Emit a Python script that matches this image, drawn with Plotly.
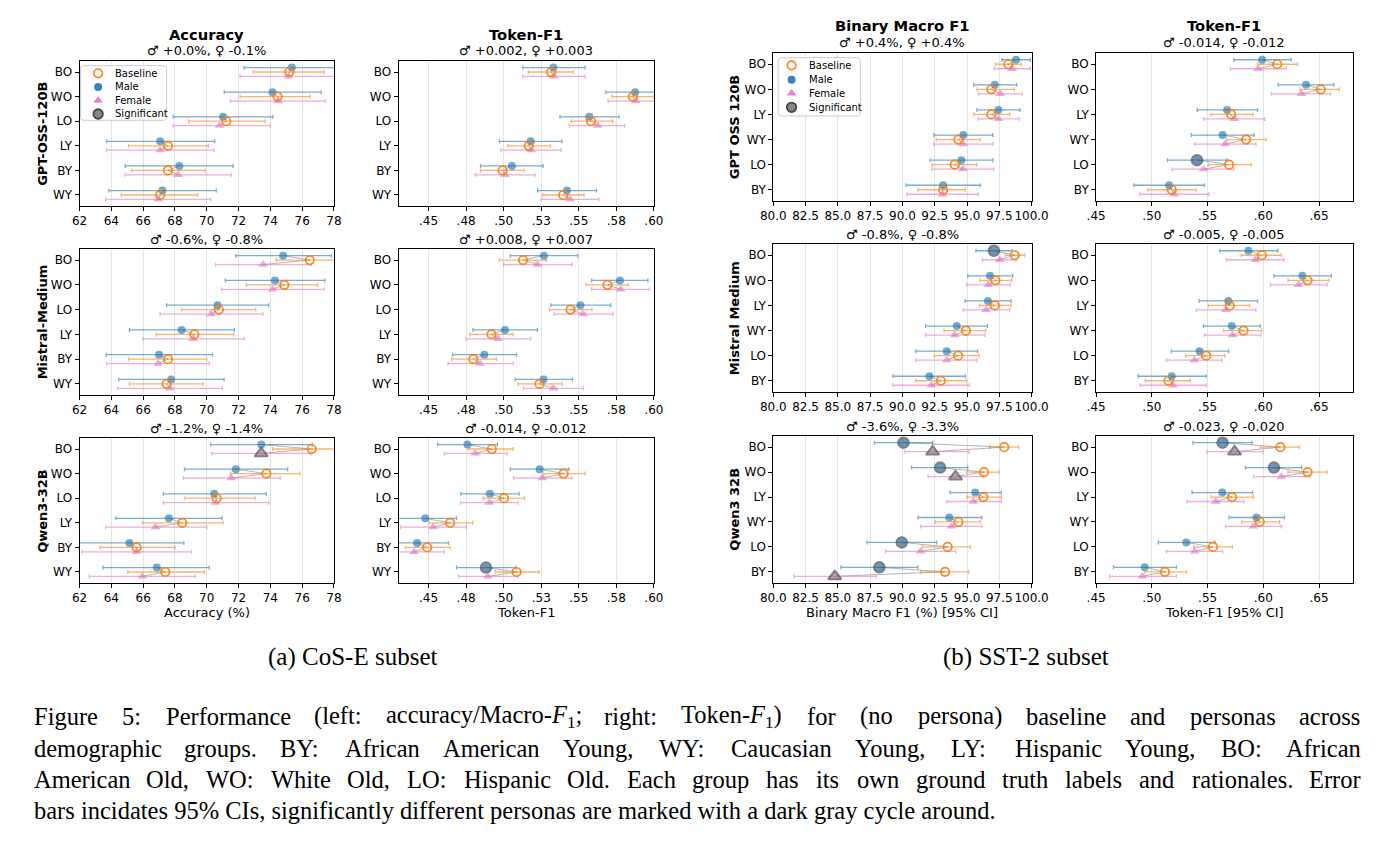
import numpy as np
import plotly.graph_objects as go

W, H = 1393, 859

# ---------------- categories ----------------
groups_cose = ["BO", "WO", "LO", "LY", "BY", "WY"]
groups_sst = ["BO", "WO", "LY", "WY", "LO", "BY"]

# ---------------- (a) CoS-E : GPT-OSS-120B ----------------
a_gpt_acc_male      = [75.35, 74.14, 71.03, 67.07, 68.28, 67.21]
a_gpt_acc_male_lo   = [72.35, 71.10, 67.90, 63.70, 64.87, 63.85]
a_gpt_acc_male_hi   = [78.40, 77.20, 74.15, 70.50, 71.66, 70.60]
a_gpt_acc_base      = [75.19, 74.45, 71.23, 67.56, 67.56, 67.07]
a_gpt_acc_base_lo   = [72.93, 72.10, 68.87, 65.08, 65.28, 64.63]
a_gpt_acc_base_hi   = [77.38, 76.50, 73.65, 70.10, 69.90, 69.45]
a_gpt_acc_female    = [75.13, 74.50, 70.80, 67.07, 68.20, 66.96]
a_gpt_acc_female_lo = [72.10, 71.50, 67.90, 63.70, 64.87, 63.64]
a_gpt_acc_female_hi = [78.10, 77.45, 74.00, 70.45, 71.54, 70.25]

a_gpt_tf1_male      = [0.5331, 0.5875, 0.5570, 0.5180, 0.5055, 0.5421]
a_gpt_tf1_male_lo   = [0.5127, 0.5680, 0.5375, 0.4971, 0.4846, 0.5226]
a_gpt_tf1_male_hi   = [0.5542, 0.6070, 0.5768, 0.5388, 0.5263, 0.5618]
a_gpt_tf1_base      = [0.5316, 0.5860, 0.5581, 0.5167, 0.4993, 0.5397]
a_gpt_tf1_base_lo   = [0.5164, 0.5722, 0.5450, 0.5029, 0.4846, 0.5259]
a_gpt_tf1_base_hi   = [0.5465, 0.6000, 0.5726, 0.5311, 0.5136, 0.5535]
a_gpt_tf1_female    = [0.5333, 0.5880, 0.5627, 0.5182, 0.5009, 0.5441]
a_gpt_tf1_female_lo = [0.5127, 0.5695, 0.5436, 0.4980, 0.4811, 0.5250]
a_gpt_tf1_female_hi = [0.5542, 0.6070, 0.5805, 0.5382, 0.5208, 0.5634]

# ---------------- (a) CoS-E : Mistral-Medium ----------------
a_mis_acc_male      = [74.80, 74.29, 70.68, 68.42, 67.00, 67.76]
a_mis_acc_male_lo   = [71.83, 71.17, 67.48, 65.14, 63.68, 64.46]
a_mis_acc_male_hi   = [77.84, 77.43, 73.90, 71.74, 70.37, 71.09]
a_mis_acc_base      = [76.48, 74.88, 70.76, 69.22, 67.56, 67.48]
a_mis_acc_base_lo   = [74.37, 72.48, 68.42, 66.82, 65.08, 65.14]
a_mis_acc_base_hi   = [78.50, 76.97, 73.08, 71.70, 70.00, 69.77]
a_mis_acc_female    = [73.55, 74.14, 70.27, 69.14, 66.94, 67.68]
a_mis_acc_female_lo = [70.55, 70.92, 67.07, 66.00, 63.70, 64.40]
a_mis_acc_female_hi = [76.56, 77.38, 73.53, 72.36, 70.16, 70.98]

a_mis_tf1_male      = [0.5268, 0.5774, 0.5511, 0.5009, 0.4871, 0.5265]
a_mis_tf1_male_lo   = [0.5044, 0.5586, 0.5314, 0.4796, 0.4660, 0.5077]
a_mis_tf1_male_hi   = [0.5493, 0.5960, 0.5713, 0.5224, 0.5086, 0.5458]
a_mis_tf1_base      = [0.5129, 0.5691, 0.5445, 0.4919, 0.4798, 0.5239]
a_mis_tf1_base_lo   = [0.4971, 0.5548, 0.5305, 0.4776, 0.4654, 0.5096]
a_mis_tf1_base_hi   = [0.5283, 0.5830, 0.5588, 0.5061, 0.4952, 0.5389]
a_mis_tf1_female    = [0.5226, 0.5779, 0.5529, 0.4961, 0.4842, 0.5331]
a_mis_tf1_female_lo = [0.5000, 0.5586, 0.5336, 0.4748, 0.4629, 0.5132]
a_mis_tf1_female_hi = [0.5454, 0.5970, 0.5728, 0.5180, 0.5064, 0.5531]

# ---------------- (a) CoS-E : Qwen3-32B ----------------
a_qwen_acc_male      = [73.43, 71.83, 70.47, 67.62, 65.14, 66.86]
a_qwen_acc_male_lo   = [70.25, 68.60, 67.27, 64.28, 61.80, 63.48]
a_qwen_acc_male_hi   = [76.63, 75.09, 73.75, 70.96, 68.56, 70.16]
a_qwen_acc_base      = [76.60, 73.75, 70.62, 68.46, 65.59, 67.39]
a_qwen_acc_base_lo   = [74.14, 71.50, 68.63, 65.96, 63.29, 65.04]
a_qwen_acc_base_hi   = [79.00, 75.85, 73.04, 71.03, 68.01, 69.84]
a_qwen_acc_female    = [73.43, 71.54, 70.55, 66.78, 65.59, 65.94]
a_qwen_acc_female_lo = [70.31, 68.54, 67.27, 63.64, 62.16, 62.62]
a_qwen_acc_female_hi = [76.56, 74.62, 73.90, 70.00, 69.04, 69.28]
a_qwen_acc_sig_male   = [0, 0, 0, 0, 0, 0]
a_qwen_acc_sig_female = [1, 0, 0, 0, 0, 0]

a_qwen_tf1_male      = [0.4759, 0.5239, 0.4908, 0.4478, 0.4423, 0.4882]
a_qwen_tf1_male_lo   = [0.4561, 0.5044, 0.4715, 0.4270, 0.4210, 0.4686]
a_qwen_tf1_male_hi   = [0.4958, 0.5434, 0.5103, 0.4686, 0.4632, 0.5081]
a_qwen_tf1_base      = [0.4921, 0.5399, 0.5002, 0.4643, 0.4491, 0.5086]
a_qwen_tf1_base_lo   = [0.4763, 0.5263, 0.4864, 0.4504, 0.4346, 0.4945]
a_qwen_tf1_base_hi   = [0.5064, 0.5542, 0.5138, 0.4794, 0.4643, 0.5235]
a_qwen_tf1_female    = [0.4811, 0.5257, 0.4904, 0.4529, 0.4404, 0.4895]
a_qwen_tf1_female_lo = [0.4605, 0.5066, 0.4713, 0.4314, 0.4200, 0.4702]
a_qwen_tf1_female_hi = [0.5022, 0.5454, 0.5096, 0.4752, 0.4603, 0.5096]
a_qwen_tf1_sig_male   = [0, 0, 0, 0, 0, 1]
a_qwen_tf1_sig_female = [0, 0, 0, 0, 0, 0]

# ---------------- (b) SST-2 : GPT OSS 120B ----------------
b_gpt_mf1_male      = [98.80, 97.15, 97.43, 94.71, 94.56, 93.15]
b_gpt_mf1_male_lo   = [97.70, 95.52, 95.77, 92.44, 92.14, 90.28]
b_gpt_mf1_male_hi   = [99.90, 98.84, 99.10, 97.00, 97.00, 96.02]
b_gpt_mf1_base      = [98.20, 96.88, 96.88, 94.33, 94.05, 93.15]
b_gpt_mf1_base_lo   = [97.20, 95.77, 95.52, 92.62, 92.29, 91.21]
b_gpt_mf1_base_hi   = [99.20, 98.66, 98.30, 96.02, 95.74, 94.88]
b_gpt_mf1_female    = [98.50, 97.58, 97.43, 94.71, 94.69, 93.10]
b_gpt_mf1_female_lo = [97.10, 95.90, 95.87, 92.44, 92.29, 90.35]
b_gpt_mf1_female_hi = [99.90, 99.27, 99.04, 97.00, 97.08, 95.87]

b_gpt_tf1_male      = [0.5989, 0.6383, 0.5675, 0.5634, 0.5405, 0.5155]
b_gpt_tf1_male_lo   = [0.5736, 0.6133, 0.5407, 0.5355, 0.5140, 0.4838]
b_gpt_tf1_male_hi   = [0.6250, 0.6632, 0.5948, 0.5918, 0.5675, 0.5472]
b_gpt_tf1_base      = [0.6124, 0.6515, 0.5710, 0.5845, 0.5692, 0.5178]
b_gpt_tf1_base_lo   = [0.5948, 0.6330, 0.5528, 0.5669, 0.5507, 0.4964]
b_gpt_tf1_base_hi   = [0.6306, 0.6682, 0.5907, 0.6024, 0.5892, 0.5396]
b_gpt_tf1_female    = [0.5954, 0.6341, 0.5739, 0.5657, 0.5463, 0.5199]
b_gpt_tf1_female_lo = [0.5704, 0.6071, 0.5463, 0.5384, 0.5184, 0.4891]
b_gpt_tf1_female_hi = [0.6206, 0.6603, 0.6012, 0.5933, 0.5736, 0.5513]
b_gpt_tf1_sig_male   = [0, 0, 0, 0, 1, 0]
b_gpt_tf1_sig_female = [0, 0, 0, 0, 0, 0]

# ---------------- (b) SST-2 : Mistral Medium ----------------
b_mis_mf1_male      = [97.08, 96.78, 96.62, 94.20, 93.43, 92.09]
b_mis_mf1_male_lo   = [95.69, 95.06, 94.86, 91.79, 91.03, 89.27]
b_mis_mf1_male_hi   = [98.50, 98.54, 98.41, 96.58, 95.82, 94.88]
b_mis_mf1_base      = [98.70, 97.20, 97.15, 94.91, 94.31, 92.97]
b_mis_mf1_base_lo   = [97.96, 96.02, 95.97, 93.22, 92.47, 91.03]
b_mis_mf1_base_hi   = [99.47, 98.46, 98.40, 96.45, 95.94, 94.96]
b_mis_mf1_female    = [97.53, 96.65, 96.47, 94.05, 93.43, 92.24]
b_mis_mf1_female_lo = [96.20, 94.96, 94.71, 91.79, 91.03, 89.27]
b_mis_mf1_female_hi = [98.80, 98.34, 98.30, 96.37, 95.77, 95.19]
b_mis_mf1_sig_male   = [1, 0, 0, 0, 0, 0]
b_mis_mf1_sig_female = [0, 0, 0, 0, 0, 0]

b_mis_tf1_male      = [0.5866, 0.6350, 0.5686, 0.5716, 0.5428, 0.5178]
b_mis_tf1_male_lo   = [0.5610, 0.6095, 0.5425, 0.5463, 0.5175, 0.4876]
b_mis_tf1_male_hi   = [0.6130, 0.6609, 0.5948, 0.5971, 0.5689, 0.5487]
b_mis_tf1_base      = [0.5986, 0.6397, 0.5698, 0.5822, 0.5487, 0.5149]
b_mis_tf1_base_lo   = [0.5801, 0.6221, 0.5507, 0.5645, 0.5302, 0.4941]
b_mis_tf1_base_hi   = [0.6162, 0.6588, 0.5877, 0.5986, 0.5654, 0.5346]
b_mis_tf1_female    = [0.5927, 0.6315, 0.5663, 0.5722, 0.5381, 0.5187]
b_mis_tf1_female_lo = [0.5669, 0.6065, 0.5399, 0.5472, 0.5131, 0.4896]
b_mis_tf1_female_hi = [0.6183, 0.6573, 0.5933, 0.5977, 0.5628, 0.5487]

# ---------------- (b) SST-2 : Qwen3 32B ----------------
b_qwen_mf1_male      = [90.08, 92.92, 95.64, 93.63, 89.95, 88.21]
b_qwen_mf1_male_lo   = [87.84, 90.71, 93.68, 91.21, 87.26, 85.24]
b_qwen_mf1_male_hi   = [92.34, 95.06, 97.66, 96.15, 92.67, 91.21]
b_qwen_mf1_base      = [97.88, 96.32, 96.27, 94.33, 93.50, 93.30]
b_qwen_mf1_base_lo   = [96.75, 94.99, 94.99, 92.54, 91.54, 91.41]
b_qwen_mf1_base_hi   = [99.00, 97.46, 97.66, 96.02, 95.26, 95.14]
b_qwen_mf1_female    = [92.34, 94.11, 95.49, 93.80, 91.41, 84.76]
b_qwen_mf1_female_lo = [90.20, 91.99, 93.43, 91.41, 88.69, 81.59]
b_qwen_mf1_female_hi = [95.14, 96.25, 97.66, 96.15, 94.13, 87.96]
b_qwen_mf1_sig_male   = [1, 1, 0, 0, 1, 1]
b_qwen_mf1_sig_female = [1, 1, 0, 0, 0, 1]

b_qwen_tf1_male      = [0.5634, 0.6095, 0.5631, 0.5939, 0.5308, 0.4935]
b_qwen_tf1_male_lo   = [0.5369, 0.5839, 0.5360, 0.5692, 0.5058, 0.4656]
b_qwen_tf1_male_hi   = [0.5898, 0.6344, 0.5904, 0.6189, 0.5566, 0.5220]
b_qwen_tf1_base      = [0.6153, 0.6397, 0.5719, 0.5968, 0.5548, 0.5117]
b_qwen_tf1_base_lo   = [0.5971, 0.6221, 0.5531, 0.5807, 0.5375, 0.4935]
b_qwen_tf1_base_hi   = [0.6324, 0.6571, 0.5910, 0.6145, 0.5722, 0.5311]
b_qwen_tf1_female    = [0.5742, 0.6162, 0.5572, 0.5910, 0.5384, 0.4914]
b_qwen_tf1_female_lo = [0.5493, 0.5913, 0.5316, 0.5660, 0.5131, 0.4620]
b_qwen_tf1_female_hi = [0.5998, 0.6412, 0.5825, 0.6162, 0.5634, 0.5220]
b_qwen_tf1_sig_male   = [1, 1, 0, 0, 0, 0]
b_qwen_tf1_sig_female = [1, 0, 0, 0, 0, 0]

no_sig = [0, 0, 0, 0, 0, 0]

# subtitle deltas
a_deltas = [["♂ +0.0%, ♀ -0.1%", "♂ +0.002, ♀ +0.003"],
            ["♂ -0.6%, ♀ -0.8%", "♂ +0.008, ♀ +0.007"],
            ["♂ -1.2%, ♀ -1.4%", "♂ -0.014, ♀ -0.012"]]
b_deltas = [["♂ +0.4%, ♀ +0.4%", "♂ -0.014, ♀ -0.012"],
            ["♂ -0.8%, ♀ -0.8%", "♂ -0.005, ♀ -0.005"],
            ["♂ -3.6%, ♀ -3.3%", "♂ -0.023, ♀ -0.020"]]

a_models = ["GPT-OSS-120B", "Mistral-Medium", "Qwen3-32B"]
b_models = ["GPT OSS 120B", "Mistral Medium", "Qwen3 32B"]

# tick labels
acc_ticks = [62, 64, 66, 68, 70, 72, 74, 76, 78]
acc_text = ["62", "64", "66", "68", "70", "72", "74", "76", "78"]
tf1a_ticks = [0.45, 0.475, 0.50, 0.525, 0.55, 0.575, 0.60]
tf1a_text = [".45", ".48", ".50", ".53", ".55", ".58", ".60"]
mf1_ticks = [80, 82.5, 85, 87.5, 90, 92.5, 95, 97.5, 100]
mf1_text = ["80.0", "82.5", "85.0", "87.5", "90.0", "92.5", "95.0", "97.5", "100.0"]
tf1b_ticks = [0.45, 0.50, 0.55, 0.60, 0.65]
tf1b_text = [".45", ".50", ".55", ".60", ".65"]

# ---------------- layout geometry (pixels) ----------------
colA, colB, colC, colD = (68, 328), (394, 655), (777, 1041), (1107, 1369)
rowsL = [(61, 206), (249, 395), (438, 583)]
rowsR = [(53, 201), (244, 392), (436, 583)]

BLUE = "rgba(31,119,180,0.9)"
BLUE_SIG = "rgba(40,98,145,0.95)"
BLUE_E = "rgba(31,119,180,0.6)"
ORANGE = "rgba(255,127,14,0.95)"
ORANGE_E = "rgba(255,127,14,0.6)"
PINK = "rgba(227,119,194,0.9)"
PINK_SIG = "rgba(160,108,148,0.95)"
PINK_E = "rgba(227,119,194,0.6)"
SIG_EDGE = "rgba(70,70,70,0.95)"
OFF = 0.18
PADY = 0.448
FONT = "DejaVu Sans"


def P(prefix, metric, cats, col, row, xr, tv, tt, sig_m=None, sig_f=None):
    g = globals()
    key = f"{prefix}_{metric}"
    return dict(
        cats=cats, col=col, row=row, xr=xr, tv=tv, tt=tt,
        male=g[key + "_male"], male_lo=g[key + "_male_lo"], male_hi=g[key + "_male_hi"],
        base=g[key + "_base"], base_lo=g[key + "_base_lo"], base_hi=g[key + "_base_hi"],
        female=g[key + "_female"], female_lo=g[key + "_female_lo"], female_hi=g[key + "_female_hi"],
        sig_m=sig_m or no_sig, sig_f=sig_f or no_sig)


panels = [
    P("a_gpt", "acc", groups_cose, colA, rowsL[0], [62, 78], acc_ticks, acc_text),
    P("a_gpt", "tf1", groups_cose, colB, rowsL[0], [0.43, 0.60], tf1a_ticks, tf1a_text),
    P("a_mis", "acc", groups_cose, colA, rowsL[1], [62, 78], acc_ticks, acc_text),
    P("a_mis", "tf1", groups_cose, colB, rowsL[1], [0.43, 0.60], tf1a_ticks, tf1a_text),
    P("a_qwen", "acc", groups_cose, colA, rowsL[2], [62, 78], acc_ticks, acc_text,
      a_qwen_acc_sig_male, a_qwen_acc_sig_female),
    P("a_qwen", "tf1", groups_cose, colB, rowsL[2], [0.43, 0.60], tf1a_ticks, tf1a_text,
      a_qwen_tf1_sig_male, a_qwen_tf1_sig_female),
    P("b_gpt", "mf1", groups_sst, colC, rowsR[0], [80, 100], mf1_ticks, mf1_text),
    P("b_gpt", "tf1", groups_sst, colD, rowsR[0], [0.45, 0.68], tf1b_ticks, tf1b_text,
      b_gpt_tf1_sig_male, b_gpt_tf1_sig_female),
    P("b_mis", "mf1", groups_sst, colC, rowsR[1], [80, 100], mf1_ticks, mf1_text,
      b_mis_mf1_sig_male, b_mis_mf1_sig_female),
    P("b_mis", "tf1", groups_sst, colD, rowsR[1], [0.45, 0.68], tf1b_ticks, tf1b_text),
    P("b_qwen", "mf1", groups_sst, colC, rowsR[2], [80, 100], mf1_ticks, mf1_text,
      b_qwen_mf1_sig_male, b_qwen_mf1_sig_female),
    P("b_qwen", "tf1", groups_sst, colD, rowsR[2], [0.45, 0.68], tf1b_ticks, tf1b_text,
      b_qwen_tf1_sig_male, b_qwen_tf1_sig_female),
]

fig = go.Figure()
axes_layout = {}
annotations = []

AXCOMMON = dict(showline=True, mirror=True, linecolor="black", linewidth=1,
                ticks="outside", ticklen=4, tickwidth=1, tickcolor="black",
                tickfont=dict(family=FONT, size=12, color="black"), tickangle=0,
                zeroline=False, fixedrange=True)


def errs(v, lo, hi):
    return [h - x for x, h in zip(v, hi)], [x - l for x, l in zip(v, lo)]


for k, p in enumerate(panels, start=1):
    xa = "x" if k == 1 else f"x{k}"
    ya = "y" if k == 1 else f"y{k}"
    x0, x1 = p["col"]
    y0, y1 = p["row"]
    n = len(p["cats"])
    idx = list(range(n))
    axes_layout["xaxis" if k == 1 else f"xaxis{k}"] = dict(
        domain=[x0 / W, x1 / W], range=p["xr"], anchor=ya,
        tickmode="array", tickvals=p["tv"], ticktext=p["tt"],
        showgrid=True, gridcolor="#e4e4e4", gridwidth=1, **AXCOMMON)
    axes_layout["yaxis" if k == 1 else f"yaxis{k}"] = dict(
        domain=[1 - y1 / H, 1 - y0 / H], range=[n - 1 + PADY, -PADY], anchor=xa,
        tickmode="array", tickvals=idx, ticktext=p["cats"], showgrid=False, **AXCOMMON)

    ym = [i - OFF for i in idx]
    yf = [i + OFF for i in idx]

    # connectors baseline -> persona
    cx, cy = [], []
    for i in idx:
        cx += [p["male"][i], p["base"][i], p["female"][i], None]
        cy += [ym[i], i, yf[i], None]
    fig.add_trace(go.Scatter(x=cx, y=cy, mode="lines", xaxis=xa, yaxis=ya,
                             line=dict(color="rgba(120,120,120,0.55)", width=1),
                             showlegend=False, hoverinfo="skip"))

    # male
    ep, em = errs(p["male"], p["male_lo"], p["male_hi"])
    sm = p["sig_m"]
    fig.add_trace(go.Scatter(
        x=p["male"], y=ym, mode="markers", xaxis=xa, yaxis=ya, showlegend=False,
        marker=dict(symbol="circle",
                    size=[10.5 if s else 8 for s in sm],
                    color=[BLUE_SIG if s else BLUE for s in sm],
                    line=dict(color=[SIG_EDGE if s else "rgba(0,0,0,0)" for s in sm],
                              width=[2 if s else 0 for s in sm])),
        error_x=dict(type="data", symmetric=False, array=ep, arrayminus=em,
                     color=BLUE_E, thickness=1.3, width=2)))

    # female
    ep, em = errs(p["female"], p["female_lo"], p["female_hi"])
    sf = p["sig_f"]
    fig.add_trace(go.Scatter(
        x=p["female"], y=yf, mode="markers", xaxis=xa, yaxis=ya, showlegend=False,
        marker=dict(symbol="triangle-up",
                    size=[11.5 if s else 8.5 for s in sf],
                    color=[PINK_SIG if s else PINK for s in sf],
                    line=dict(color=[SIG_EDGE if s else "rgba(0,0,0,0)" for s in sf],
                              width=[2 if s else 0 for s in sf])),
        error_x=dict(type="data", symmetric=False, array=ep, arrayminus=em,
                     color=PINK_E, thickness=1.3, width=2)))

    # baseline
    ep, em = errs(p["base"], p["base_lo"], p["base_hi"])
    fig.add_trace(go.Scatter(
        x=p["base"], y=idx, mode="markers", xaxis=xa, yaxis=ya, showlegend=False,
        marker=dict(symbol="circle-open", size=8.5, color=ORANGE, line=dict(width=1.7)),
        error_x=dict(type="data", symmetric=False, array=ep, arrayminus=em,
                     color=ORANGE_E, thickness=1.3, width=2)))


def ann(x, y, text, size=12.7, bold=False, angle=0, xanchor="center", family=FONT, color="black"):
    annotations.append(dict(
        x=x / W, y=1 - y / H, xref="paper", yref="paper", showarrow=False,
        text=f"<b>{text}</b>" if bold else text, textangle=angle,
        xanchor=xanchor, yanchor="middle", borderpad=0,
        font=dict(family=family, size=size, color=color)))


# titles
ann(sum(colA) / 2, 34, "Accuracy", size=14.7, bold=True)
ann(sum(colB) / 2, 34, "Token-F1", size=14.7, bold=True)
ann(sum(colC) / 2, 26, "Binary Macro F1", size=14.7, bold=True)
ann(sum(colD) / 2, 26, "Token-F1", size=14.7, bold=True)

for r in range(3):
    ann(sum(colA) / 2, rowsL[r][0] - 10, a_deltas[r][0], size=13)
    ann(sum(colB) / 2, rowsL[r][0] - 10, a_deltas[r][1], size=13)
    ann(sum(colC) / 2, rowsR[r][0] - 10, b_deltas[r][0], size=13)
    ann(sum(colD) / 2, rowsR[r][0] - 10, b_deltas[r][1], size=13)
    ann(30, sum(rowsL[r]) / 2, a_models[r], size=13, bold=True, angle=-90)
    ann(737, sum(rowsR[r]) / 2, b_models[r], size=13, bold=True, angle=-90)

# x labels
ann(sum(colA) / 2, 612, "Accuracy (%)", size=13)
ann(sum(colB) / 2, 612, "Token-F1", size=13)
ann(sum(colC) / 2, 612, "Binary Macro F1 (%) [95% CI]", size=13)
ann(sum(colD) / 2, 612, "Token-F1 [95% CI]", size=13)

# ---------------- manual legends (overlay axes in pixel units) ----------------
legend_labels = ["Baseline", "Male", "Female", "Significant"]


def rounded_rect(x0, y0, x1, y1, r=3):
    xs, ys = [], []
    for cxc, cyc, a0 in [(x1 - r, y0 + r, -90), (x1 - r, y1 - r, 0), (x0 + r, y1 - r, 90), (x0 + r, y0 + r, 180)]:
        for a in np.linspace(a0, a0 + 90, 5):
            xs.append(cxc + r * np.cos(np.radians(a)))
            ys.append(cyc + r * np.sin(np.radians(a)))
    xs.append(xs[0]); ys.append(ys[0])
    return xs, ys


def add_legend(k, box, mx, tx, item_ys):
    bx0, by0, bx1, by1 = box
    pad = 3
    xa, ya = f"x{k}", f"y{k}"
    axes_layout[f"xaxis{k}"] = dict(domain=[(bx0 - pad) / W, (bx1 + pad) / W],
                                    range=[bx0 - pad, bx1 + pad], visible=False,
                                    anchor=ya, fixedrange=True)
    axes_layout[f"yaxis{k}"] = dict(domain=[1 - (by1 + pad) / H, 1 - (by0 - pad) / H],
                                    range=[by1 + pad, by0 - pad], visible=False,
                                    anchor=xa, fixedrange=True)
    rx, ry = rounded_rect(bx0, by0, bx1, by1)
    fig.add_trace(go.Scatter(x=rx, y=ry, mode="lines", fill="toself",
                             fillcolor="rgba(255,255,255,0.85)",
                             line=dict(color="#cccccc", width=1),
                             xaxis=xa, yaxis=ya, showlegend=False, hoverinfo="skip"))
    styles = [
        dict(symbol="circle-open", size=8.5, color=ORANGE, line=dict(width=1.7)),
        dict(symbol="circle", size=8, color=BLUE),
        dict(symbol="triangle-up", size=8.5, color=PINK),
        dict(symbol="circle", size=9.5, color="rgba(128,128,128,0.95)",
             line=dict(color="rgba(70,70,70,1)", width=1.8)),
    ]
    for yy, st, lab in zip(item_ys, styles, legend_labels):
        fig.add_trace(go.Scatter(x=[mx], y=[yy], mode="markers", marker=st,
                                 xaxis=xa, yaxis=ya, showlegend=False, hoverinfo="skip"))
        annotations.append(dict(x=tx, y=yy, xref=xa, yref=ya, text=lab, showarrow=False,
                                xanchor="left", yanchor="middle", borderpad=0,
                                font=dict(family=FONT, size=10, color="black")))


add_legend(13, (69, 65.7, 157, 120.3), 87, 103, [73.3, 87.0, 100.5, 114.0])
add_legend(14, (782, 57.7, 866, 116.0), 795.7, 812, [65.3, 79.7, 93.3, 107.3])

# ---------------- sub-captions and figure caption ----------------
ann(347, 657, "(a) CoS-E subset", size=25, family="Liberation Serif")
ann(1035, 657, "(b) SST-2 subset", size=25, family="Liberation Serif")

TW = dict(zip("abcdefghijklmnopqrstuvwxyz",
              [444, 500, 444, 500, 444, 333, 500, 500, 278, 278, 500, 278, 778, 500, 500,
               500, 500, 333, 389, 278, 500, 500, 722, 500, 500, 444]))
TW.update(dict(zip("ABCDEFGHIJKLMNOPQRSTUVWXYZ",
                   [722, 667, 667, 722, 611, 556, 722, 722, 333, 389, 722, 611, 889, 722, 722,
                    556, 722, 667, 556, 611, 722, 722, 944, 722, 722, 611])))
TW.update({c: 500 for c in "0123456789"})
TW.update({" ": 250, ":": 278, ";": 278, ",": 250, ".": 250, "/": 278, "(": 333, ")": 333,
           "-": 333, "%": 833})

cap_lines = [
    "Figure 5: Performance (left: accuracy/Macro-F1; right: Token-F1) for (no persona) baseline and personas across",
    "demographic groups. BY: African American Young, WY: Caucasian Young, LY: Hispanic Young, BO: African",
    "American Old, WO: White Old, LO: Hispanic Old. Each group has its own ground truth labels and rationales. Error",
    "bars incidates 95% CIs, significantly different personas are marked with a dark gray cycle around.",
]
cap_y = [716, 748, 779, 810]
CAP_FS = 24.5
CAP_X0, CAP_X1 = 20, 1375


def word_w(wd):
    w = sum(TW.get(c, 500) for c in wd)
    if "F1" in wd:
        w += 55 - 150
    return w / 1000.0 * CAP_FS


def word_html(wd):
    return wd.replace("F1", "<i>F</i><sub>1</sub>")


for li, (line, yy) in enumerate(zip(cap_lines, cap_y)):
    if li == len(cap_lines) - 1:
        annotations.append(dict(
            x=CAP_X0 / W, y=1 - yy / H, xref="paper", yref="paper", showarrow=False,
            text=line, xanchor="left", yanchor="middle", borderpad=0,
            font=dict(family="Liberation Serif", size=CAP_FS, color="black")))
        continue
    words = line.split(" ")
    widths = [word_w(wd) for wd in words]
    gap = (CAP_X1 - CAP_X0 - sum(widths)) / (len(words) - 1)
    x = CAP_X0
    for wd, wdw in zip(words, widths):
        annotations.append(dict(
            x=x / W, y=1 - yy / H, xref="paper", yref="paper", showarrow=False,
            text=word_html(wd), xanchor="left", yanchor="middle", borderpad=0,
            font=dict(family="Liberation Serif", size=CAP_FS, color="black")))
        x += wdw + gap

fig.update_layout(
    width=W, height=H, margin=dict(l=0, r=0, t=0, b=0),
    paper_bgcolor="white", plot_bgcolor="rgba(0,0,0,0)",
    showlegend=False, annotations=annotations, **axes_layout)

fig.write_html("out.html", config={"displayModeBar": False})
